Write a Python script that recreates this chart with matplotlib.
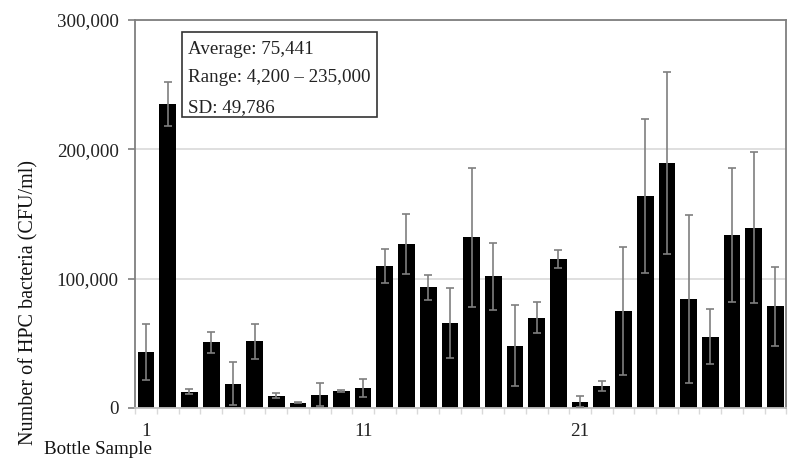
#!/usr/bin/env python
"""HPC bacteria counts per bottle sample, bar chart with SD error bars."""

import numpy as np
import matplotlib
matplotlib.use("Agg")
import matplotlib.pyplot as plt
from matplotlib.patches import Rectangle
from matplotlib.ticker import FuncFormatter, MultipleLocator

plt.rcParams["font.family"] = ["Liberation Serif", "DejaVu Serif"]

# bottle samples 1..30
samples = list(range(1, 31))
hpc_mean = [43400, 235000, 12600, 50800, 18800, 51600, 9500, 4200, 10300, 13100,
            15200, 109700, 126700, 93200, 65800, 132100, 101700, 48300, 69700, 115100,
            4900, 17000, 75100, 163900, 189700, 84400, 55200, 133700, 139400, 78700]
hpc_sd = [21800, 17200, 2100, 8000, 16700, 13500, 2100, 500, 8800, 1100,
          7000, 13400, 23400, 9800, 26800, 53800, 26100, 31100, 12000, 7100,
          4200, 4100, 49500, 59300, 70400, 65200, 21300, 51700, 58200, 30400]
xtick_labels = {1: "1", 11: "11", 21: "21"}
stats_lines = ["Average: 75,441", "Range: 4,200 \u2013 235,000", "SD: 49,786"]

SPINE = "#7f7f7f"
GRID = "#d9d9d9"


def main() -> None:
    fig = plt.figure(figsize=(8.0, 4.62), dpi=100)
    ax = fig.add_axes([0.169, 0.1169, 0.8138, 0.8398])

    x = np.arange(len(samples))
    ax.bar(x, hpc_mean, width=0.77, color="black", zorder=2)
    ax.errorbar(x, hpc_mean, yerr=hpc_sd, fmt="none", ecolor="#7f7f7f",
                elinewidth=1.2, capsize=3, capthick=1.2, zorder=3)

    ax.set_xlim(-0.5, len(samples) - 0.5)
    ax.set_ylim(0, 300000)

    # y axis
    ax.yaxis.set_major_locator(MultipleLocator(100000))
    ax.yaxis.set_major_formatter(FuncFormatter(lambda v, p: f"{int(v):,}"))
    ax.grid(axis="y", color=GRID, linewidth=1.2, zorder=0)
    ax.tick_params(axis="y", direction="out", length=5, width=1.2,
                   color=SPINE, pad=7, labelsize=13.7, labelcolor="#222222")

    # x axis: labels at 1, 11, 21, small ticks at category boundaries
    pos = [s - 1 for s in xtick_labels]
    ax.set_xticks(pos)
    ax.set_xticklabels(list(xtick_labels.values()))
    ax.set_xticks(np.arange(-0.5, len(samples)), minor=True)
    ax.tick_params(axis="x", which="major", length=0, pad=11, labelsize=13.7,
                   labelcolor="#222222")
    ax.tick_params(axis="x", which="minor", direction="out", length=4,
                   width=1, color=GRID)

    for side in ["left", "top", "right", "bottom"]:
        ax.spines[side].set_color(SPINE)
        ax.spines[side].set_linewidth(1.3)
    ax.spines["bottom"].set_color("#bfbfbf")

    # stats box
    ax.add_patch(Rectangle((0.0722, 0.750), 0.2995, 0.219, transform=ax.transAxes,
                           facecolor="white", edgecolor="#333333", linewidth=1.2,
                           zorder=4))
    for y_pos, line in zip([0.912, 0.839, 0.762], stats_lines):
        ax.text(0.0814, y_pos, line, transform=ax.transAxes, ha="left",
                va="baseline", fontsize=13.7, color="#222222", zorder=5)

    fig.text(0.036, 0.346, "Number of HPC bacteria (CFU/ml)", rotation=90,
             ha="center", va="center", fontsize=14.5, color="#111111")
    fig.text(0.055, 0.026, "Bottle Sample", ha="left", va="center",
             fontsize=13.7, color="#111111")

    fig.savefig("out.png", dpi=100)


if __name__ == "__main__":
    main()
